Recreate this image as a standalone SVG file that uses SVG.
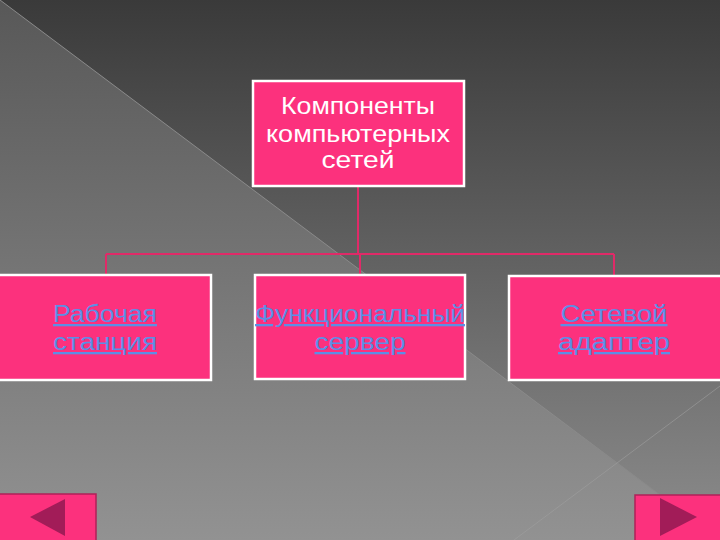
<svg xmlns="http://www.w3.org/2000/svg" width="720" height="540" viewBox="0 0 720 540">
<defs>
<linearGradient id="bg" x1="0" y1="0" x2="0" y2="1">
<stop offset="0" stop-color="#3a3a3a"/>
<stop offset="1" stop-color="#8c8c8c"/>
</linearGradient>
<linearGradient id="lt" x1="0" y1="0" x2="0" y2="1">
<stop offset="0" stop-color="#585858"/>
<stop offset="1" stop-color="#929292"/>
</linearGradient>
<style>
.box{fill:#fc317d;stroke:#ffffff;stroke-width:2.5}
.con{fill:none;stroke:#e02a68;stroke-width:2}
.t{font-family:"Century Gothic","URW Gothic","Liberation Sans","DejaVu Sans",sans-serif;font-size:23px;text-anchor:middle}
.w{fill:#ffffff}
.lnk{fill:#5b8fe6;text-decoration:underline}
.nav{fill:#fc317d;stroke:#b02058;stroke-width:1.5}
.tri{fill:#a21c58}
</style>
</defs>
<rect width="720" height="540" fill="url(#bg)"/>
<polygon points="0,0 720,540 0,540" fill="url(#lt)"/>
<line x1="0" y1="0" x2="720" y2="540" stroke="#8a8a8a" stroke-width="1"/>
<line x1="514" y1="540" x2="720" y2="386" stroke="#a0a0a0" stroke-width="1" opacity="0.6"/>

<g id="connectors">
<path class="con" d="M358,187 V254 M106,254 H614 M106,254 V274 M360,254 V274 M614,254 V275"/>
</g>

<g id="root">
<rect class="box" x="253" y="81" width="211" height="105"/>
<text class="t w" x="358" y="114" textLength="154" lengthAdjust="spacingAndGlyphs">Компоненты</text>
<text class="t w" x="358" y="142" textLength="184" lengthAdjust="spacingAndGlyphs">компьютерных</text>
<text class="t w" x="358" y="168" textLength="73" lengthAdjust="spacingAndGlyphs">сетей</text>
</g>

<g id="workstation">
<rect class="box" x="-2" y="275" width="213" height="105"/>
<text class="t lnk" x="105" y="322" textLength="104" lengthAdjust="spacingAndGlyphs">Рабочая</text>
<text class="t lnk" x="105" y="350" textLength="104" lengthAdjust="spacingAndGlyphs">станция</text>
</g>

<g id="server">
<rect class="box" x="255" y="275" width="210" height="104"/>
<text class="t lnk" x="360" y="322" textLength="210" lengthAdjust="spacingAndGlyphs">Функциональный</text>
<text class="t lnk" x="360" y="350" textLength="91" lengthAdjust="spacingAndGlyphs">сервер</text>
</g>

<g id="adapter">
<rect class="box" x="509" y="276" width="213" height="104"/>
<text class="t lnk" x="614" y="322" textLength="107" lengthAdjust="spacingAndGlyphs">Сетевой</text>
<text class="t lnk" x="614" y="350" textLength="112" lengthAdjust="spacingAndGlyphs">адаптер</text>
</g>

<g id="nav-prev">
<rect class="nav" x="-2" y="494" width="98" height="48"/>
<polygon class="tri" points="30,517 65,499 65,536"/>
</g>

<g id="nav-next">
<rect class="nav" x="635" y="495" width="87" height="47"/>
<polygon class="tri" points="660,498 697,517 660,536"/>
</g>
</svg>
